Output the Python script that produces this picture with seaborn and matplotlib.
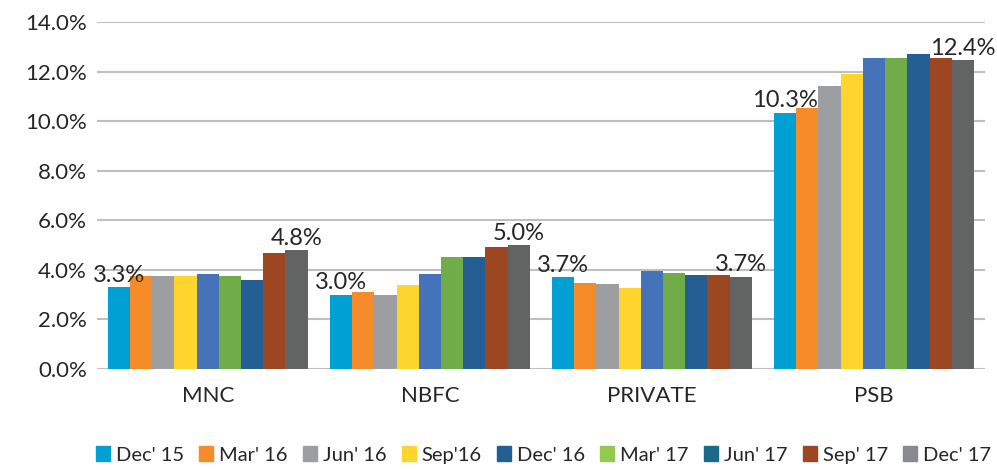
import matplotlib
matplotlib.use("Agg")
import matplotlib.pyplot as plt
import matplotlib.patches as mpatches
from matplotlib.ticker import FuncFormatter
import seaborn as sns
import pandas as pd

categories = ["MNC", "NBFC", "PRIVATE", "PSB"]
periods = ["Dec' 15", "Mar' 16", "Jun' 16", "Sep'16", "Dec' 16", "Mar' 17", "Jun' 17", "Sep' 17", "Dec' 17"]
values = {
    "MNC":     [3.3, 3.74, 3.74, 3.74, 3.82, 3.74, 3.58, 4.68, 4.8],
    "NBFC":    [3.0, 3.1, 2.97, 3.38, 3.82, 4.52, 4.52, 4.94, 5.0],
    "PRIVATE": [3.7, 3.48, 3.44, 3.28, 3.97, 3.89, 3.81, 3.81, 3.73],
    "PSB":     [10.35, 10.55, 11.44, 11.89, 12.54, 12.54, 12.7, 12.54, 12.46],
}
bar_colors = ["#00a0d2", "#f68b2a", "#9d9ea2", "#fdd52e", "#4672b9", "#70ac48", "#245e92", "#9c4722", "#626463"]
legend_colors = ["#00a0d2", "#f68b2a", "#9d9ea2", "#fdd52e", "#245e92", "#92c94f", "#1b6a8a", "#9c4722", "#888a8e"]
label_text = {
    "MNC": ("3.3%", "4.8%"),
    "NBFC": ("3.0%", "5.0%"),
    "PRIVATE": ("3.7%", "3.7%"),
    "PSB": ("10.3%", "12.4%"),
}

rows = []
for c in categories:
    for p, v in zip(periods, values[c]):
        rows.append({"cat": c, "period": p, "val": v})
df = pd.DataFrame(rows)

sns.set_style("white")
plt.rcParams["font.family"] = ["Lato", "DejaVu Sans"]
text_color = "#262626"

fig = plt.figure(figsize=(9.97, 4.70), dpi=100)
ax = fig.add_axes([0.097, 0.215, 0.891, 0.738])

sns.barplot(data=df, x="cat", y="val", hue="period", order=categories, hue_order=periods,
            palette=bar_colors, width=0.9, saturation=1, ax=ax, legend=False,
            errorbar=None, linewidth=0)

ax.set_ylim(0, 14)
ax.set_yticks([0, 2, 4, 6, 8, 10, 12, 14])
ax.yaxis.set_major_formatter(FuncFormatter(lambda v, _: f"{v:.1f}%"))
ax.grid(axis="y", color="#bfbfbf", linewidth=1.5)
ax.set_axisbelow(True)
for s in ax.spines.values():
    s.set_visible(False)
ax.tick_params(axis="y", length=0, labelsize=16, colors=text_color, pad=7)
ax.tick_params(axis="x", length=0, labelsize=16, colors=text_color, pad=12)
ax.set_xlabel("")
ax.set_ylabel("")

first = ax.containers[0]
last = ax.containers[-1]
ax.bar_label(first, labels=[label_text[c][0] for c in categories], padding=1,
             fontsize=17, color=text_color)
ax.bar_label(last, labels=[label_text[c][1] for c in categories], padding=1,
             fontsize=17, color=text_color)

handles = [mpatches.Patch(color=col, label=p) for col, p in zip(legend_colors, periods)]
fig.legend(handles=handles, loc="center", bbox_to_anchor=(0.545, 0.032), ncol=9,
           frameon=False, fontsize=14.5, handlelength=0.7, handleheight=0.7,
           handletextpad=0.3, columnspacing=0.75, labelcolor=text_color)

fig.savefig("out.png", dpi=100)
